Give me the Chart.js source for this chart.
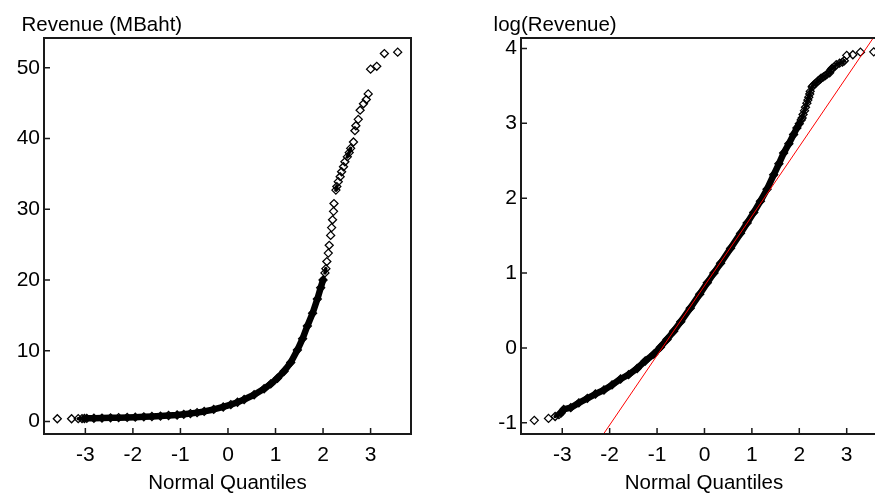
<!DOCTYPE html>
<html>
<head>
<meta charset="utf-8">
<script src="https://cdn.jsdelivr.net/npm/chart.js@4/dist/chart.umd.min.js"></script>
<style>
    html, body { margin: 0; padding: 0; background: #ffffff; overflow: hidden; }
    #wrap { position: relative; width: 875px; height: 496px; overflow: hidden; }
    canvas { position: absolute; top: 0; }
    #revenue_chart { left: 0; }
    #log_chart { left: 440px; }
</style>
</head>
<body>
<div id="wrap">
    <canvas id="revenue_chart" width="440" height="496"></canvas>
    <canvas id="log_chart" width="480" height="496"></canvas>
</div>
<script>
// normal quantiles of the sorted sample
const quantiles = [-3.59, -3.29, -3.15, -3.07, -3.02, -2.97, -2.82, -2.65, -2.47, -2.30,
    -2.12, -1.95, -1.77, -1.60, -1.42, -1.25, -1.07, -0.93, -0.79, -0.65,
    -0.50, -0.30, -0.10, 0.06, 0.20, 0.34, 0.55, 0.76, 0.90, 1.04,
    1.18, 1.32, 1.46, 1.57, 1.67, 1.78, 1.88, 1.95, 2.00, 2.04,
    2.06, 2.08, 2.11, 2.13, 2.16, 2.18, 2.20, 2.22, 2.23, 2.27,
    2.29, 2.32, 2.36, 2.39, 2.43, 2.46, 2.51, 2.55, 2.58, 2.64,
    2.67, 2.69, 2.74, 2.78, 2.85, 2.91, 2.95, 3.00, 3.13, 3.29, 3.57];

// revenue in MBaht
const revenue = [0.38, 0.39, 0.40, 0.41, 0.42, 0.44, 0.45, 0.48, 0.51, 0.54,
    0.57, 0.61, 0.66, 0.70, 0.76, 0.84, 0.92, 1.01, 1.12, 1.25,
    1.42, 1.70, 2.05, 2.39, 2.72, 3.10, 3.78, 4.62, 5.31, 6.11,
    7.10, 8.33, 10.1, 11.7, 13.5, 15.3, 17.3, 18.9, 20.0, 21.0,
    21.6, 22.6, 23.8, 24.9, 26.3, 27.4, 28.5, 29.7, 30.8, 32.7,
    33.2, 33.9, 34.6, 35.3, 36.0, 36.7, 37.4, 38.0, 38.6, 39.5,
    41.1, 41.8, 42.7, 44.0, 44.9, 45.5, 46.3, 49.8, 50.2, 52.0, 52.2];

// qqline for log(Revenue)
const qqLineIntercept = 0.83;
const qqLineSlope = 0.93;

const quantileTicks = [-3, -2, -1, 0, 1, 2, 3];
const revenueTicks = [0, 10, 20, 30, 40, 50];
const logTicks = [-1, 0, 1, 2, 3, 4];

// the bulk of the sample is so dense it reads as a solid band
const bandStart = -3.05;
const bandEnd = 2.0;
const overlapGap = 5;   // px: neighbouring markers this close merge

const FONT = "'Liberation Sans', Arial, sans-serif";

const framePlugin = {
    id: 'frame',
    afterDatasetsDraw(chart, args, opts) {
        const ctx = chart.ctx;
        const a = chart.chartArea;
        const xs = chart.scales.x;
        const ys = chart.scales.y;
        ctx.save();
        ctx.strokeStyle = '#1a1a1a';
        ctx.lineWidth = 1.5;
        ctx.beginPath();
        xs.ticks.forEach(t => {
            const px = xs.getPixelForValue(t.value);
            ctx.moveTo(px, a.bottom);
            ctx.lineTo(px, a.bottom - 6);
        });
        ys.ticks.forEach(t => {
            const py = ys.getPixelForValue(t.value);
            ctx.moveTo(a.left, py);
            ctx.lineTo(a.left + 6, py);
        });
        ctx.stroke();
        ctx.lineWidth = 2;
        ctx.strokeRect(a.left, a.top, a.right - a.left, a.bottom - a.top);

        // panel heading, top left above the frame
        ctx.fillStyle = '#000000';
        ctx.font = '20.5px ' + FONT;
        ctx.textAlign = 'left';
        ctx.textBaseline = 'alphabetic';
        ctx.fillText(opts.text, a.left - opts.dx, 31);
        ctx.restore();
    }
};

function segmentStyle(ctx, dense, merged) {
    const q0 = quantiles[ctx.p0DataIndex];
    const q1 = quantiles[ctx.p1DataIndex];
    if (q0 >= bandStart && q1 <= bandEnd) return dense;
    const d = Math.hypot(ctx.p1.x - ctx.p0.x, ctx.p1.y - ctx.p0.y);
    return d < overlapGap ? merged : undefined;
}

function sampleDataset(values) {
    return {
        data: quantiles.map((q, i) => ({ x: q, y: values[i] })),
        showLine: true,
        borderColor: 'rgba(0,0,0,0)',
        borderWidth: 6,
        borderCapStyle: 'round',
        borderJoinStyle: 'round',
        tension: 0,
        segment: {
            borderColor: ctx => segmentStyle(ctx, '#000000', '#000000'),
            borderWidth: ctx => segmentStyle(ctx, 6.5, 3.5)
        },
        pointStyle: 'rectRot',
        pointRadius: 4,
        pointBorderWidth: 1.3,
        pointBorderColor: '#000000',
        pointBackgroundColor: 'rgba(0,0,0,0)',
        order: 1
    };
}

function buildOptions(title, titleDx, yMin, yMax, yTicks, yWidth, padRight) {
    return {
        responsive: false,
        animation: false,
        events: [],
        layout: { padding: { left: 0, right: padRight, top: 38, bottom: 0 } },
        plugins: {
            legend: { display: false },
            tooltip: { enabled: false },
            title: { display: false },
            frame: { text: title, dx: titleDx }
        },
        scales: {
            x: {
                type: 'linear',
                min: -3.87,
                max: 3.85,
                afterBuildTicks: s => { s.ticks = quantileTicks.map(v => ({ value: v })); },
                afterFit: s => { s.height = 62; },
                grid: { display: false, drawTicks: false },
                border: { display: false },
                ticks: { color: '#000000', font: { family: FONT, size: 21 }, padding: 9, maxRotation: 0, autoSkip: false, includeBounds: false },
                title: {
                    display: true,
                    text: 'Normal Quantiles',
                    color: '#000000',
                    font: { family: FONT, size: 20.5 },
                    padding: { top: 0, bottom: 0 }
                }
            },
            y: {
                type: 'linear',
                min: yMin,
                max: yMax,
                afterBuildTicks: s => { s.ticks = yTicks.map(v => ({ value: v })); },
                afterFit: s => { s.width = yWidth; },
                grid: { display: false, drawTicks: false },
                border: { display: false },
                ticks: { color: '#000000', font: { family: FONT, size: 21 }, padding: 4, autoSkip: false, includeBounds: false }
            }
        }
    };
}

function createRevenueChart() {
    const canvas = document.getElementById('revenue_chart');
    return new Chart(canvas, {
        type: 'scatter',
        data: { datasets: [sampleDataset(revenue)] },
        options: buildOptions('Revenue (MBaht)', 22.5, -1.77, 54.2, revenueTicks, 44, 29),
        plugins: [framePlugin]
    });
}

function createLogChart() {
    const canvas = document.getElementById('log_chart');
    const logRevenue = revenue.map(v => Math.log(v));
    const lineEnds = [-4.5, 4.5];
    const qqLine = {
        data: lineEnds.map(q => ({ x: q, y: qqLineIntercept + qqLineSlope * q })),
        showLine: true,
        borderColor: '#ff0000',
        borderWidth: 1,
        pointRadius: 0,
        order: 0
    };
    return new Chart(canvas, {
        type: 'scatter',
        data: { datasets: [qqLine, sampleDataset(logRevenue)] },
        options: buildOptions('log(Revenue)', 27.4, -1.15, 4.14, logTicks, 81, 33),
        plugins: [framePlugin]
    });
}

function init() {
    createRevenueChart();
    createLogChart();
}

init();
</script>
</body>
</html>
